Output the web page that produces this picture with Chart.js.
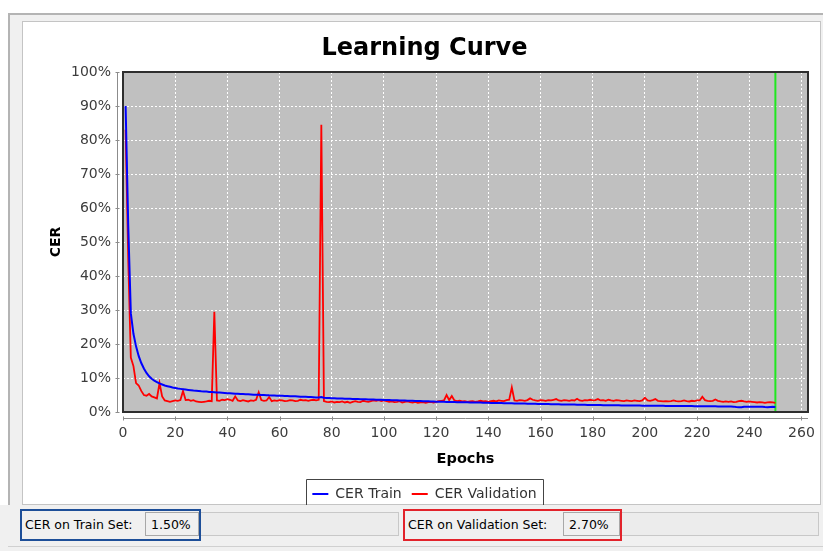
<!DOCTYPE html>
<html>
<head>
<meta charset="utf-8">
<title>Learning Curve</title>
<script src="https://cdn.jsdelivr.net/npm/chart.js@4.4.1/dist/chart.umd.min.js"></script>
<style>
  html, body { margin: 0; padding: 0; }
  body {
    position: relative; width: 823px; height: 551px; overflow: hidden;
    background: #ffffff; font-family: 'DejaVu Sans', sans-serif;
  }
  #frame {
    position: absolute; left: 8px; top: 13px; width: 830px; height: 545px;
    background: #f0f0f0; border-top: 2px solid #b4b4b4; border-left: 2px solid #b4b4b4;
  }
  #panel {
    position: absolute; left: 22px; top: 21px; width: 797px; height: 482px;
    background: #ffffff; border: 1px solid #c4c4c4;
  }
  #chart { position: absolute; left: 0; top: 0; z-index: 1; }
  #status { position: absolute; left: 0; top: 505px; width: 823px; height: 46px; z-index: 2; background: #f0f0f0; }
  #status .lbl { position: absolute; top: 12px; font-size: 12.5px; color: #000; white-space: nowrap; }
  #status .val {
    position: absolute; top: 7px; height: 24px; line-height: 24px; box-sizing: border-box;
    border: 1px solid #a8a8a8; background: #f0f0f0; font-size: 12.5px; padding-left: 5px; color: #000;
  }
  #status .fill {
    position: absolute; top: 7px; height: 24px; box-sizing: border-box;
    border: 1px solid #c8c8c8; background: #ececec;
  }
  #status .grp { position: absolute; top: 4px; height: 32px; box-sizing: border-box; border: 2px solid; }
  #status .line { position: absolute; left: 8px; right: 0; top: 41px; height: 1px; background: #d0d0d0; }
</style>
</head>
<body>
<div id="frame"></div>
<div id="panel"></div>
<canvas id="chart" width="823" height="551"></canvas>
<div id="status">
  <div class="fill" style="left:198px; width:201px;"></div>
  <div class="val" id="trainVal" style="left:145px; width:54px;"></div>
  <div class="lbl" style="left:25px;">CER on Train Set:</div>
  <div class="grp" style="left:20px; width:181px; border-color:#1d4e98;"></div>

  <div class="fill" style="left:620px; width:199px;"></div>
  <div class="val" id="validVal" style="left:563px; width:57px;"></div>
  <div class="lbl" style="left:408px;">CER on Validation Set:</div>
  <div class="grp" style="left:403px; width:219px; border-color:#e2232b;"></div>
  <div class="line"></div>
</div>
<script>
// Character error rate (%) per training epoch, epochs 1..250
const trainCER = [
  90, 55, 29, 23, 19.3, 16.5, 14.4, 12.8, 11.5, 10.5,
  9.8, 9.2, 8.8, 8.4, 8.1, 7.8, 7.6, 7.4, 7.2, 7.05,
  6.9, 6.8, 6.7, 6.6, 6.5, 6.4, 6.3, 6.25, 6.2, 6.1,
  6.05, 6.0, 5.9, 5.85, 5.8, 5.75, 5.7, 5.65, 5.6, 5.55,
  5.5, 5.45, 5.4, 5.35, 5.3, 5.28, 5.25, 5.2, 5.15, 5.1,
  5.08, 5.05, 5.0, 4.98, 4.95, 4.9, 4.88, 4.85, 4.8, 4.78,
  4.75, 4.72, 4.7, 4.65, 4.62, 4.6, 4.55, 4.5, 4.48, 4.45,
  4.4, 4.38, 4.35, 4.3, 4.28, 4.4, 4.2, 4.15, 4.1, 4.05,
  4.02, 4.0, 3.98, 3.95, 3.92, 3.9, 3.88, 3.85, 3.82, 3.8,
  3.78, 3.75, 3.72, 3.7, 3.68, 3.65, 3.63, 3.6, 3.58, 3.55,
  3.52, 3.5, 3.48, 3.45, 3.43, 3.4, 3.38, 3.35, 3.33, 3.3,
  3.28, 3.25, 3.23, 3.2, 3.18, 3.15, 3.13, 3.1, 3.08, 3.05,
  3.03, 3.0, 2.98, 2.97, 2.95, 2.93, 2.92, 2.9, 2.88, 2.87,
  2.85, 2.84, 2.82, 2.8, 2.79, 2.77, 2.76, 2.74, 2.72, 2.7,
  2.68, 2.67, 2.65, 2.63, 2.62, 2.6, 2.58, 2.57, 2.55, 2.53,
  2.52, 2.5, 2.48, 2.47, 2.45, 2.43, 2.42, 2.4, 2.38, 2.36,
  2.35, 2.33, 2.32, 2.3, 2.29, 2.27, 2.26, 2.24, 2.23, 2.21,
  2.2, 2.18, 2.17, 2.15, 2.14, 2.12, 2.11, 2.09, 2.08, 2.06,
  2.05, 2.04, 2.03, 2.02, 2.0, 1.99, 1.98, 1.97, 1.96, 1.95,
  1.94, 1.93, 1.92, 1.91, 1.9, 1.9, 1.89, 1.88, 1.87, 1.86,
  1.85, 1.85, 1.84, 1.83, 1.82, 1.82, 1.81, 1.8, 1.8, 1.79,
  1.78, 1.78, 1.77, 1.76, 1.75, 1.75, 1.74, 1.73, 1.72, 1.71,
  1.7, 1.7, 1.69, 1.68, 1.67, 1.66, 1.66, 1.65, 1.64, 1.63,
  1.62, 1.62, 1.6, 1.58, 1.45, 1.4, 1.42, 1.55, 1.58, 1.57,
  1.56, 1.55, 1.54, 1.53, 1.52, 1.45, 1.42, 1.5, 1.52, 1.5
];
const validationCER = [
  83, 45, 16, 13.5, 8.5, 7.8, 6.2, 5.0, 4.8, 5.3,
  4.6, 4.3, 4.0, 8.5, 4.6, 3.4, 3.2, 3.0, 3.2, 3.4,
  3.3, 3.5, 6.2, 3.5, 3.6, 3.3, 3.5, 3.1, 3.0, 2.9,
  3.0, 3.1, 3.3, 3.2, 29.5, 3.4, 3.3, 3.6, 3.5, 3.8,
  3.6, 3.3, 4.6, 3.4, 3.2, 3.5, 3.3, 3.1, 3.4, 3.3,
  3.6, 5.8, 3.5, 3.3, 3.4, 4.4, 3.2, 3.4, 3.3, 3.5,
  3.4, 3.2, 3.3, 3.5, 3.4, 3.2, 3.3, 3.6, 3.4, 3.5,
  3.3, 3.5, 3.6, 3.4, 3.6, 84.5, 3.2, 3.0, 2.9, 3.1,
  2.8, 3.0, 2.9, 3.1, 2.8, 3.0, 2.7, 3.0, 3.2, 3.0,
  2.9, 3.3, 3.1, 3.0, 3.2, 3.4, 3.3, 3.5, 3.2, 3.4,
  3.2, 3.0, 3.1, 2.9, 3.0, 3.2, 2.8, 3.0, 3.1, 2.9,
  2.8, 3.0, 2.7, 2.8, 2.9, 2.7, 2.9, 3.0, 2.8, 3.0,
  3.2, 3.3, 3.4, 5.0, 3.5, 4.7, 3.4, 3.2, 3.3, 3.1,
  3.2, 3.0, 3.1, 3.2, 3.0, 3.1, 3.3, 3.1, 3.2, 3.0,
  3.2, 3.3, 3.1, 3.4, 3.3, 3.2, 3.5, 3.6, 7.2, 3.4,
  3.3, 3.5, 3.4, 3.3, 3.5, 4.0, 3.6, 3.4, 3.3, 3.5,
  3.4, 3.3, 3.5, 3.4, 3.6, 3.8, 3.4, 3.3, 3.5, 3.4,
  3.3, 3.5, 3.4, 3.9, 3.4, 3.3, 3.5, 3.4, 3.6, 3.4,
  3.5, 3.8, 3.4, 3.5, 3.3, 3.6, 3.4, 3.3, 3.5, 3.4,
  3.3, 3.2, 3.4, 3.3, 3.2, 3.4, 3.3, 3.2, 3.4, 4.2,
  3.4, 3.3, 3.5, 3.8, 3.3, 3.2, 3.1, 3.2, 3.1, 3.2,
  3.4, 3.2, 3.1, 3.2, 3.4, 3.2, 3.1, 3.3, 3.2, 3.4,
  3.4, 4.5, 3.5, 3.3, 3.2, 3.3, 3.7, 3.3, 3.1, 3.0,
  3.1, 3.0, 3.1, 2.9, 3.0, 3.2, 3.3, 3.1, 3.0, 3.1,
  3.0, 2.9, 2.8, 2.9, 2.8, 2.7, 2.8, 2.9, 2.8, 2.7
];
const epochs = trainCER.map((_, i) => i + 1);
const stopEpoch = 250;            // epoch where training stopped (green marker)
const markerRange = [0, 100];     // marker spans the full CER axis
const xTickStep = 20;
const yTickStep = 10;

const FONT = "'DejaVu Sans', sans-serif";
const pct = v => v.toFixed(2) + '%';
document.getElementById('trainVal').textContent = pct(trainCER[trainCER.length - 1]);
document.getElementById('validVal').textContent = pct(validationCER[validationCER.length - 1]);

// Grey plot background behind the grid
const plotBackground = {
  id: 'plotBackground',
  beforeDraw(chart) {
    const {ctx, chartArea: a} = chart;
    ctx.save();
    ctx.fillStyle = '#c0c0c0';
    ctx.fillRect(a.left, a.top, a.right - a.left, a.bottom - a.top);
    ctx.restore();
  }
};

// Plot outline plus axis lines set slightly away from the plot
const plotFrame = {
  id: 'plotFrame',
  afterDatasetsDraw(chart) {
    const {ctx, chartArea: a, scales: {x, y}} = chart;
    ctx.save();
    ctx.strokeStyle = '#2e2e2e';
    ctx.lineWidth = 2;
    ctx.strokeRect(a.left, a.top, a.right - a.left, a.bottom - a.top);

    ctx.strokeStyle = '#8c8c8c';
    ctx.lineWidth = 1;
    const ay = a.bottom + 6.5;
    ctx.beginPath();
    ctx.moveTo(a.left, ay); ctx.lineTo(a.right, ay);
    x.ticks.forEach(t => {
      const px = Math.round(x.getPixelForValue(t.value)) + 0.5;
      ctx.moveTo(px, ay - 2); ctx.lineTo(px, ay + 2);
    });
    const ax = a.left - 5.5;
    ctx.moveTo(ax, a.top); ctx.lineTo(ax, a.bottom);
    y.ticks.forEach(t => {
      const py = Math.round(y.getPixelForValue(t.value)) + 0.5;
      ctx.moveTo(ax - 2, py); ctx.lineTo(ax + 2, py);
    });
    ctx.stroke();
    ctx.restore();
  },
  afterDraw(chart) {
    const lg = chart.legend;
    if (!lg || !lg.legendHitBoxes || !lg.legendHitBoxes.length) return;
    const hb = lg.legendHitBoxes;
    const l = Math.round(hb[0].left - 6) + 0.5;
    const last = hb[hb.length - 1];
    const r = Math.round(last.left + last.width + 6) + 0.5;
    const t = Math.round(lg.top + 2) + 0.5;
    const b = 505;
    const ctx = chart.ctx;
    ctx.save();
    ctx.strokeStyle = '#444444';
    ctx.lineWidth = 1;
    ctx.beginPath();
    ctx.moveTo(l, b); ctx.lineTo(l, t); ctx.lineTo(r, t); ctx.lineTo(r, b);
    ctx.stroke();
    ctx.restore();
  }
};

new Chart(document.getElementById('chart'), {
  type: 'line',
  data: {
    datasets: [
      {
        label: 'CER Train',
        data: epochs.map((e, i) => ({x: e, y: trainCER[i]})),
        borderColor: '#0000ff', backgroundColor: '#0000ff',
        borderWidth: 2, pointRadius: 0, tension: 0
      },
      {
        label: 'CER Validation',
        data: epochs.map((e, i) => ({x: e, y: validationCER[i]})),
        borderColor: '#ff0000', backgroundColor: '#ff0000',
        borderWidth: 1.8, pointRadius: 0, tension: 0
      },
      {
        label: 'stop',
        data: markerRange.map(v => ({x: stopEpoch, y: v})),
        borderColor: '#1fe81f', backgroundColor: '#1fe81f',
        borderWidth: 2, pointRadius: 0
      }
    ]
  },
  options: {
    responsive: false,
    animation: false,
    devicePixelRatio: 1,
    layout: { padding: {top: 22, left: 41, right: 15, bottom: 40}, autoPadding: false },
    plugins: {
      tooltip: { enabled: false },
      title: {
        display: true, text: 'Learning Curve', color: '#000000',
        font: {family: FONT, size: 24, weight: 'bold'},
        padding: {top: 12, bottom: 9.2}
      },
      legend: {
        position: 'bottom',
        labels: {
          boxWidth: 16, boxHeight: 2, padding: 10, color: '#333333',
          font: {family: FONT, size: 14},
          filter: item => item.datasetIndex < 2,
          generateLabels: chart =>
            Chart.defaults.plugins.legend.labels.generateLabels(chart)
              .map(it => Object.assign(it, {lineWidth: 0}))
        }
      }
    },
    scales: {
      x: {
        type: 'linear', min: 0, max: 262.5,
        afterFit: s => { s.height = 65; s.paddingLeft = 0; s.paddingRight = 0; },
        ticks: {
          stepSize: xTickStep, includeBounds: false, padding: 13, maxRotation: 0, autoSkip: false,
          color: '#3c3c3c', font: {family: FONT, size: 14}
        },
        grid: { color: '#ffffff', lineWidth: 1, drawTicks: false },
        border: { display: false, dash: [2, 2] },
        title: {
          display: true, text: 'Epochs', color: '#000000',
          font: {family: FONT, size: 14.5, weight: 'bold'}, padding: {top: 0, bottom: 9}
        }
      },
      y: {
        min: 0, max: 100,
        afterFit: s => { s.width = 82; s.paddingTop = 0; s.paddingBottom = 0; },
        ticks: {
          stepSize: yTickStep, padding: 12, callback: v => v + '%',
          color: '#3c3c3c', font: {family: FONT, size: 14}
        },
        grid: { color: '#ffffff', lineWidth: 1, drawTicks: false },
        border: { display: false, dash: [2, 2] },
        title: {
          display: true, text: 'CER', color: '#000000',
          font: {family: FONT, size: 14, weight: 'bold'}, padding: {top: 7, bottom: 0}
        }
      }
    }
  },
  plugins: [plotBackground, plotFrame]
});
</script>
</body>
</html>
